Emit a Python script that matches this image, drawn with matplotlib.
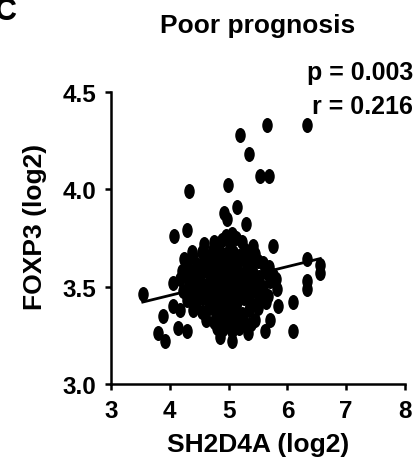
import numpy as np
import matplotlib
matplotlib.use("Agg")
import matplotlib.pyplot as plt
from matplotlib.path import Path
from matplotlib.transforms import Affine2D

# SH2D4A (log2) vs FOXP3 (log2), poor prognosis group
# outer points
sh2d4a_outer = [6.34, 5.66, 5.20, 5.34, 5.54, 5.68, 4.32, 4.99, 5.15, 4.92,
                4.98, 5.29, 4.30, 4.07, 4.58, 4.96, 5.42, 5.75, 4.73, 5.36,
                5.50, 4.39, 4.25, 4.20, 4.05, 3.54,
                6.34, 6.56, 6.56, 6.33, 6.33, 6.10, 6.10, 5.83, 5.84, 5.66,
                5.70, 5.62, 5.45, 5.33,
                3.88, 3.80, 3.92, 4.14, 4.30, 4.05, 4.17, 4.85, 5.05]
foxp3_outer = [4.33, 4.33, 4.28, 4.18, 4.07, 4.07, 3.99, 4.02, 3.91, 3.88,
               3.85, 3.82, 3.79, 3.76, 3.72, 3.76, 3.71, 3.71, 3.69, 3.68,
               3.63, 3.65, 3.64, 3.58, 3.52, 3.46,
               3.64, 3.61, 3.57, 3.53, 3.49, 3.42, 3.27, 3.49, 3.40, 3.57,
               3.33, 3.27, 3.33, 3.26,
               3.35, 3.26, 3.22, 3.29, 3.27, 3.40, 3.38, 3.24, 3.22]

# dense core (estimated, overlapping points)
sh2d4a_core = [4.75, 4.88, 5.02, 5.12, 5.22, 5.05,
               4.55, 4.66, 4.84, 4.95, 5.08, 5.18, 5.28, 5.45, 4.38,
               4.30, 4.48, 4.60, 4.72, 4.82, 4.93, 5.04, 5.14, 5.25, 5.36, 5.58, 5.68,
               4.26, 4.40, 4.52, 4.63, 4.74, 4.86, 4.97, 5.08, 5.19, 5.30, 5.41, 5.52, 5.62, 5.75,
               4.18, 4.33, 4.45, 4.57, 4.68, 4.79, 4.90, 5.01, 5.12, 5.23, 5.34, 5.46, 5.58, 5.70, 5.80,
               4.22, 4.36, 4.49, 4.61, 4.73, 4.84, 4.95, 5.06, 5.20, 5.31, 5.42, 5.55, 5.67,
               4.30, 4.44, 4.56, 4.68, 4.80, 4.91, 5.02, 5.15, 5.27, 5.38, 5.52, 5.64,
               4.40, 4.55, 4.66, 4.78, 4.89, 5.00, 5.11, 5.22, 5.35, 5.50,
               4.62, 4.76, 4.88, 5.00, 5.13, 5.26, 5.38,
               4.90, 5.06, 5.18, 4.80,
               4.85, 4.95, 5.05, 5.10, 4.98, 4.88, 4.78, 5.15, 5.00, 4.70,
               5.25, 4.92, 5.03, 4.82, 5.17]
foxp3_core = [3.73, 3.74, 3.72, 3.75, 3.73, 3.77,
              3.68, 3.66, 3.69, 3.67, 3.68, 3.66, 3.69, 3.67, 3.68,
              3.62, 3.61, 3.63, 3.62, 3.64, 3.61, 3.63, 3.62, 3.64, 3.61, 3.62, 3.60,
              3.57, 3.58, 3.56, 3.58, 3.57, 3.59, 3.57, 3.58, 3.56, 3.58, 3.57, 3.55, 3.58, 3.56,
              3.54, 3.52, 3.53, 3.51, 3.54, 3.52, 3.54, 3.52, 3.53, 3.51, 3.53, 3.52, 3.50, 3.53, 3.54,
              3.48, 3.47, 3.49, 3.47, 3.48, 3.46, 3.49, 3.47, 3.48, 3.46, 3.48, 3.47, 3.45,
              3.43, 3.42, 3.44, 3.42, 3.43, 3.41, 3.43, 3.42, 3.44, 3.41, 3.43, 3.42,
              3.38, 3.37, 3.39, 3.36, 3.38, 3.37, 3.39, 3.36, 3.38, 3.39,
              3.33, 3.32, 3.34, 3.31, 3.33, 3.32, 3.31,
              3.28, 3.27, 3.29, 3.29,
              3.55, 3.60, 3.55, 3.50, 3.45, 3.50, 3.60, 3.60, 3.65, 3.50,
              3.55, 3.52, 3.40, 3.40, 3.45]

# regression line
fit_slope = 0.074
fit_intercept = 3.159

p_text = "p = 0.003"
r_text = "r = 0.216"

x = np.array(sh2d4a_outer + sh2d4a_core)
y = np.array(foxp3_outer + foxp3_core)

plt.rcParams['font.family'] = ['Liberation Sans', 'DejaVu Sans']
plt.rcParams['font.weight'] = 'bold'

fig = plt.figure(figsize=(4.14, 4.64), dpi=100)
W, H = 414, 464
ax = fig.add_axes([111 / W, 1 - 385 / H, (405 - 111) / W, (385 - 93) / H])

# slightly tall ellipse markers like the original
ell = Path.unit_circle().transformed(Affine2D().scale(0.7, 1.0))
ax.scatter(x, y, s=117, marker=ell, color='black', linewidths=0, clip_on=False, zorder=3)

xl = np.array([x.min(), x.max()])
ax.plot(xl, fit_intercept + fit_slope * xl, color='black', lw=2, zorder=4)

ax.set_xlim(3, 8)
ax.set_ylim(3.0, 4.5)
ax.set_xticks([3, 4, 5, 6, 7, 8])
ax.set_yticks([3.0, 3.5, 4.0, 4.5])
ax.set_yticklabels(['3.0', '3.5', '4.0', '4.5'])
for s in ['top', 'right']:
    ax.spines[s].set_visible(False)
for s in ['left', 'bottom']:
    ax.spines[s].set_linewidth(1.8)
ax.tick_params(width=1.8, length=4.5, pad=6, labelsize=17.5)

ax.set_xlabel("SH2D4A (log2)", fontsize=19, fontweight='bold')
ax.set_ylabel("FOXP3 (log2)", fontsize=19, fontweight='bold')
ax.xaxis.set_label_coords(0.5, (385 - 433) / 292)
ax.yaxis.set_label_coords((47 - 111) / 294, 0.54)

fig.text(258 / W, 1 - 33 / H, "Poor prognosis", ha='center', va='baseline',
         fontsize=19, fontweight='bold')
fig.text(413 / W, 1 - 80 / H, p_text, ha='right', va='baseline', fontsize=18, fontweight='bold')
fig.text(413 / W, 1 - 114 / H, r_text, ha='right', va='baseline', fontsize=18, fontweight='bold')
fig.text(-5 / W, 1 - 20 / H, "C", ha='left', va='baseline', fontsize=22, fontweight='bold')

fig.savefig("out.png", dpi=100)
